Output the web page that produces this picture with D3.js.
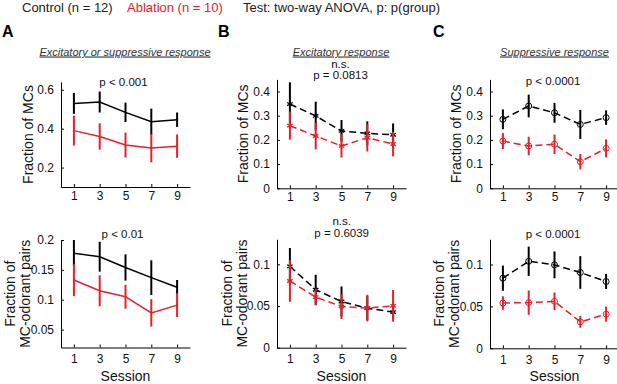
<!DOCTYPE html>
<html>
<head>
<meta charset="utf-8">
<script src="https://cdn.jsdelivr.net/npm/d3@7"></script>
<style>
  body { margin: 0; background: #fff; }
  text { font-family: "Liberation Sans", Arial, sans-serif; }
</style>
</head>
<body>
<div id="chart"></div>
<script>
const sessions = [1, 3, 5, 7, 9];

// A: excitatory or suppressive
const ctrlAnyMC = [0.53, 0.537, 0.484, 0.436, 0.446];
const ctrlAnyMCErr = [0.054, 0.054, 0.05, 0.067, 0.037];
const ablAnyMC = [0.39, 0.36, 0.316, 0.30, 0.31];
const ablAnyMCErr = [0.077, 0.068, 0.064, 0.073, 0.06];
const ctrlAnyPair = [0.178, 0.172, 0.154, 0.137, 0.121];
const ctrlAnyPairErr = [0.022, 0.025, 0.022, 0.029, 0.012];
const ablAnyPair = [0.133, 0.115, 0.105, 0.078, 0.091];
const ablAnyPairErr = [0.027, 0.026, 0.02, 0.023, 0.02];

// B: excitatory
const ctrlExcMC = [0.348, 0.299, 0.237, 0.227, 0.221];
const ctrlExcMCErr = [0.09, 0.059, 0.045, 0.05, 0.047];
const ablExcMC = [0.259, 0.216, 0.175, 0.209, 0.183];
const ablExcMCErr = [0.058, 0.055, 0.048, 0.057, 0.051];
const ctrlExcPair = [0.0976, 0.0695, 0.0554, 0.0475, 0.0427];
const ctrlExcPairErr = [0.022, 0.018, 0.018, 0.0145, 0.008];
const ablExcPair = [0.080, 0.0607, 0.0494, 0.0475, 0.0502];
const ablExcPairErr = [0.025, 0.01, 0.015, 0.016, 0.019];

// C: suppressive
const ctrlSupMC = [0.285, 0.340, 0.312, 0.264, 0.292];
const ctrlSupMCErr = [0.041, 0.047, 0.041, 0.06, 0.03];
const ablSupMC = [0.195, 0.175, 0.182, 0.110, 0.165];
const ablSupMCErr = [0.033, 0.038, 0.04, 0.032, 0.037];
const ctrlSupPair = [0.0836, 0.1038, 0.0995, 0.0904, 0.0797];
const ctrlSupPairErr = [0.015, 0.0175, 0.016, 0.0195, 0.009];
const ablSupPair = [0.054, 0.0545, 0.056, 0.0315, 0.0407];
const ablSupPairErr = [0.008, 0.0145, 0.0105, 0.007, 0.009];

const panelTitles = ["Excitatory or suppressive response", "Excitatory response", "Suppressive response"];
const panelLetters = ["A", "B", "C"];

const red = "#e3202b";
const width = 617, height = 384;

const svg = d3.select("#chart").append("svg")
    .attr("width", width)
    .attr("height", height);

// header
const head = svg.append("text").attr("y", 12).attr("font-size", 13);
head.append("tspan").attr("x", 22).attr("fill", "#222").text("Control (n = 12)");
head.append("tspan").attr("x", 127).attr("fill", red).text("Ablation (n = 10)");
head.append("tspan").attr("x", 243).attr("fill", "#222").text("Test: two-way ANOVA, p: p(group)");

const letterX = [2, 218, 433];
const titleX = [125, 341, 554.5];
panelLetters.forEach((l, i) => {
  svg.append("text").attr("x", letterX[i]).attr("y", 37)
    .attr("font-size", 16).attr("font-weight", "bold").text(l);
  svg.append("text").attr("x", titleX[i]).attr("y", 55.5)
    .attr("font-size", 11).attr("font-style", "italic")
    .attr("text-anchor", "middle").attr("fill", "#333")
    .attr("text-decoration", "underline").text(panelTitles[i]);
});

function panel(cfg) {
  const x = d3.scaleLinear().domain([0, 10]).range([cfg.x0, cfg.x0 + 129]);
  const y = d3.scaleLinear().domain(cfg.yDomain).range(cfg.yRange);
  const g = svg.append("g");

  const xAxis = g.append("g")
    .attr("transform", `translate(0,${cfg.yRange[0]})`)
    .call(d3.axisBottom(x).tickValues(sessions).tickSize(-3).tickSizeOuter(0).tickPadding(cfg.xPad));
  const yAxis = g.append("g")
    .attr("transform", `translate(${cfg.x0},0)`)
    .call(d3.axisLeft(y).tickValues(cfg.yTicks).tickSize(-3).tickSizeOuter(0).tickPadding(7)
      .tickFormat(d => String(d)));
  [xAxis, yAxis].forEach(a => {
    a.selectAll("text").attr("font-size", 12).attr("fill", "#111")
      .style("font-family", '"Liberation Sans", Arial, sans-serif');
    a.select(".domain").attr("stroke", "#000").attr("stroke-width", 1);
    a.selectAll(".tick line").attr("stroke", "#000");
  });

  const series = [
    { mean: cfg.ctrl, err: cfg.ctrlErr, color: "#000" },
    { mean: cfg.abl, err: cfg.ablErr, color: red }
  ];
  const line = d3.line().x((d, i) => x(sessions[i])).y(d => y(d));
  series.forEach(s => {
    g.append("path")
      .attr("d", line(s.mean))
      .attr("fill", "none")
      .attr("stroke", s.color)
      .attr("stroke-width", 1.5)
      .attr("stroke-dasharray", cfg.marker ? "7,4" : null);
    g.selectAll(null).data(s.mean).enter().append("line")
      .attr("x1", (d, i) => x(sessions[i]))
      .attr("x2", (d, i) => x(sessions[i]))
      .attr("y1", (d, i) => y(d - s.err[i]))
      .attr("y2", (d, i) => y(d + s.err[i]))
      .attr("stroke", s.color)
      .attr("stroke-width", 2);
    if (cfg.marker === "star") {
      g.selectAll(null).data(s.mean).enter().append("path")
        .attr("d", d3.symbol(d3.symbolAsterisk, 28))
        .attr("transform", (d, i) => `translate(${x(sessions[i])},${y(d)})`)
        .attr("fill", "none").attr("stroke", s.color).attr("stroke-width", 1.3);
    } else if (cfg.marker === "circle") {
      g.selectAll(null).data(s.mean).enter().append("circle")
        .attr("cx", (d, i) => x(sessions[i]))
        .attr("cy", d => y(d))
        .attr("r", 3)
        .attr("fill", "none").attr("stroke", s.color).attr("stroke-width", 1);
    }
  });

  // p-value labels
  cfg.pLabels.forEach(p => {
    g.append("text").attr("x", cfg.pX).attr("y", p.y)
      .attr("font-size", 11.5).attr("text-anchor", "middle").attr("fill", "#111")
      .text(p.t);
  });

  // y label
  const cy = (cfg.yRange[0] + cfg.yRange[1]) / 2;
  const lab = g.append("text")
    .attr("transform", `translate(${cfg.x0 + cfg.labOff},${cy}) rotate(-90)`)
    .attr("font-size", 14).attr("text-anchor", "middle").attr("fill", "#111");
  if (cfg.label.length === 1) {
    lab.text(cfg.label[0]);
  } else {
    lab.append("tspan").attr("x", 0).attr("y", -15).text(cfg.label[0]);
    lab.append("tspan").attr("x", 0).attr("y", 0).text(cfg.label[1]);
  }

  if (cfg.session) {
    g.append("text").attr("x", x(5)).attr("y", 381)
      .attr("font-size", 14).attr("text-anchor", "middle").attr("fill", "#111")
      .text("Session");
  }
}

const mcLabel = ["Fraction of MCs"];
const pairLabel = ["Fraction of", "MC-odorant pairs"];

panel({ x0: 61, yDomain: [0.1, 0.64], yRange: [187, 82], yTicks: [0.2, 0.4, 0.6], xPad: 4.5,
  ctrl: ctrlAnyMC, ctrlErr: ctrlAnyMCErr, abl: ablAnyMC, ablErr: ablAnyMCErr,
  marker: null, pX: 123.5, pLabels: [{ t: "p < 0.001", y: 86 }], label: mcLabel, labOff: -28 });
panel({ x0: 61, yDomain: [0.02, 0.2], yRange: [347.5, 240], yTicks: [0.05, 0.1, 0.15, 0.2], xPad: 7,
  ctrl: ctrlAnyPair, ctrlErr: ctrlAnyPairErr, abl: ablAnyPair, ablErr: ablAnyPairErr,
  marker: null, pX: 122.5, pLabels: [{ t: "p < 0.01", y: 237.5 }], label: pairLabel, labOff: -31, session: true });

panel({ x0: 277, yDomain: [0, 0.45], yRange: [188.3, 79.4], yTicks: [0, 0.1, 0.2, 0.3, 0.4], xPad: 4.5,
  ctrl: ctrlExcMC, ctrlErr: ctrlExcMCErr, abl: ablExcMC, ablErr: ablExcMCErr,
  marker: "star", pX: 340.5, pLabels: [{ t: "n.s.", y: 68 }, { t: "p = 0.0813", y: 79 }], label: mcLabel, labOff: -29 });
panel({ x0: 277, yDomain: [0, 0.13], yRange: [347.7, 239.3], yTicks: [0, 0.05, 0.1], xPad: 7,
  ctrl: ctrlExcPair, ctrlErr: ctrlExcPairErr, abl: ablExcPair, ablErr: ablExcPairErr,
  marker: "star", pX: 341.7, pLabels: [{ t: "n.s.", y: 224.5 }, { t: "p = 0.6039", y: 236.5 }], label: pairLabel, labOff: -30, session: true });

panel({ x0: 490, yDomain: [0, 0.45], yRange: [188.3, 79.4], yTicks: [0, 0.1, 0.2, 0.3, 0.4], xPad: 4.5,
  ctrl: ctrlSupMC, ctrlErr: ctrlSupMCErr, abl: ablSupMC, ablErr: ablSupMCErr,
  marker: "circle", pX: 553, pLabels: [{ t: "p < 0.0001", y: 85 }], label: mcLabel, labOff: -29 });
panel({ x0: 490, yDomain: [0, 0.13], yRange: [348.3, 239.3], yTicks: [0, 0.05, 0.1], xPad: 7,
  ctrl: ctrlSupPair, ctrlErr: ctrlSupPairErr, abl: ablSupPair, ablErr: ablSupPairErr,
  marker: "circle", pX: 553, pLabels: [{ t: "p < 0.0001", y: 237.5 }], label: pairLabel, labOff: -31, session: true });
</script>
</body>
</html>
